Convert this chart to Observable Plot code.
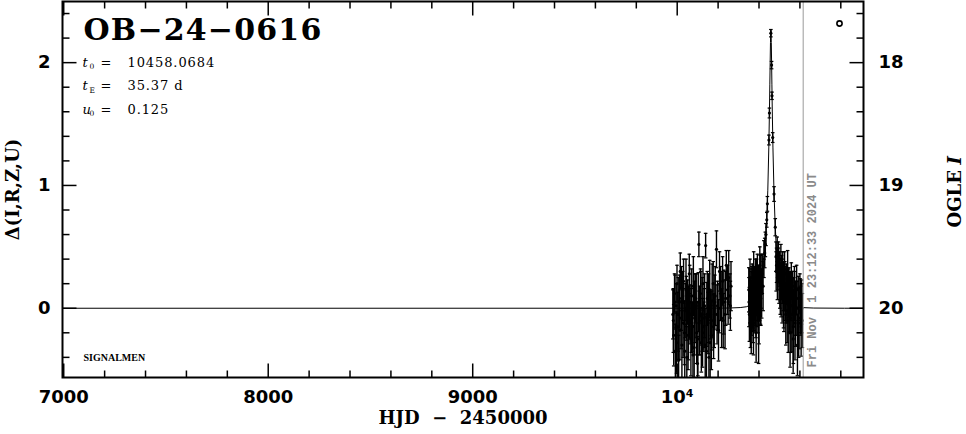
<!DOCTYPE html>
<html><head><meta charset="utf-8">
<script src="https://cdn.jsdelivr.net/npm/d3@7"></script>
<script src="https://cdn.jsdelivr.net/npm/@observablehq/plot@0.6"></script>
<style>
body{margin:0;background:#fff;}
g[aria-description="title"] text{letter-spacing:1.2px;}
g[aria-description="param-value"] text{letter-spacing:0.9px;}
</style>
</head><body><div id="chart"></div>
<script>
// ---- data ----
const eventName = "OB\u221224\u22120616";
const paramSyms = ["t", "t", "u"];
const paramSubs = ["0", "E", "0"];
const paramVals = ["10458.0684", "35.37 d", "0.125"];
const footerLabel = "SIGNALMEN";
const dateLabel = "Fri Nov\u00a0\u00a01 23:12:33 2024 UT";
const nowHJD = [10616];
const xLabel = "HJD\u00a0\u00a0\u2212\u00a0\u00a02450000";
const yLabel = "\u0394(I,R,Z,U)";
const yRightLabel = "OGLE";
const yRightLabelItalic = "I";
const legendSymbol = ["o"];

const xTickValues = [7000, 8000, 9000, 10000];
const xTickLabels = ["7000", "8000", "9000", "10\u2074"];
const xMinorTicks = [7200,7400,7600,7800,8200,8400,8600,8800,9200,9400,9600,9800,10200,10400,10600,10800];
const yTickValues = [0, 1, 2];
const yTickLabels = ["0", "1", "2"];
const yMinorTicks = [-0.4,-0.2,0.2,0.4,0.6,0.8,1.2,1.4,1.6,1.8,2.2,2.4];
const iBase = 20;
const iTickValues = [18, 19, 20];
const iTickLabels = ["18", "19", "20"];
const iMinorTicks = [17.6,17.8,18.2,18.4,18.6,18.8,19.2,19.4,19.6,19.8,20.2,20.4];

// model light curve (t, delta mag)
const modelT = [6994, 10098, 10248, 10308, 10338, 10368, 10398, 10413, 10428, 10433, 10438, 10443, 10448, 10451, 10453, 10454.57, 10456.07, 10457.07, 10458.07, 10459.07, 10460.07, 10461.57, 10463.07, 10465.07, 10468.07, 10473.07, 10478.07, 10483.07, 10488.07, 10503.07, 10518.07, 10548.07, 10578.07, 10608.07, 10668, 10818, 10911];
const modelD = [0, 0.0002, 0.0016, 0.0055, 0.0120, 0.0310, 0.0992, 0.1959, 0.4153, 0.5431, 0.7178, 0.9615, 1.3125, 1.5985, 1.825, 2.0039, 2.164, 2.2373, 2.264, 2.2373, 2.164, 2.0039, 1.825, 1.5985, 1.3125, 0.9615, 0.7178, 0.5431, 0.4153, 0.1959, 0.0992, 0.0310, 0.0120, 0.0055, 0.0016, 0.0002, 0];

// observations (t, delta, error)
const obsT = [
 9979, 9983, 9987, 9991, 9995, 9999, 10003, 10007, 10011, 10015, 10019, 10023, 10027, 10031, 10035, 10039, 10043, 10047, 10051, 10055,
 10059, 10063, 10067, 10071, 10075, 10079, 10083, 10087, 10091, 10095, 10099, 10103, 10106, 10110, 10114, 10118, 10122, 10126, 10130, 10134,
 10139, 10143, 10147, 10151, 10155, 10159, 10163, 10167, 10171, 10176, 10181, 10186, 10192, 10197, 10202, 10207, 10212, 10217, 10222, 10228,
 10234, 10240, 10246, 10252, 10258, 10263,
 9981, 9989, 9997, 10005, 10013, 10021, 10029, 10037, 10045, 10053, 10061, 10069, 10077, 10085, 10093, 10101, 10108, 10116, 10124, 10132,
 10137, 10145, 10153, 10161, 10169, 10178, 10184, 10195, 10205, 10215, 10225, 10237, 10249, 10260,
 10350, 10353, 10356, 10359, 10362, 10365, 10368, 10371, 10374, 10377, 10380, 10383, 10386, 10389, 10392, 10395, 10398, 10401, 10404, 10407,
 10410, 10413, 10416, 10420, 10424,
 10351, 10355, 10358, 10361, 10364, 10367, 10370, 10373, 10376, 10379, 10382, 10385, 10388, 10391, 10394, 10397, 10400, 10403, 10406, 10409,
 10428, 10431, 10434, 10438, 10441, 10448.5, 10451, 10458, 10461.5, 10463.5, 10467, 10473.5, 10479.5,
 10483, 10486, 10489, 10492, 10495, 10498, 10501, 10504, 10507, 10510, 10513, 10516, 10519, 10522, 10525, 10528, 10531, 10534, 10537, 10540,
 10543, 10546, 10549, 10552, 10555, 10558, 10561, 10564, 10567, 10570, 10573, 10576, 10580, 10584, 10588, 10592, 10596, 10600, 10604, 10608, 10612,
 10484, 10490, 10496, 10502, 10508, 10514, 10520, 10526, 10532, 10538, 10544, 10550, 10556, 10562, 10568, 10574, 10578, 10586, 10594, 10602, 10606, 10610];
const obsD = [
 -0.05, -0.22, 0.12, -0.35, 0.02, 0.20, -0.15, -0.42, 0.05, 0.30, -0.08, -0.30, 0.10, 0.22, -0.20, -0.02, 0.15, -0.40, 0.05, -0.12,
 0.28, -0.05, -0.25, 0.10, -0.15, 0.18, -0.32, 0.00, 0.08, -0.20, -0.45, 0.05, 0.52, -0.10, 0.12, -0.28, -0.05, 0.20, -0.15, 0.02,
 0.51, -0.35, 0.08, -0.12, -0.40, 0.15, -0.05, -0.22, 0.06, 0.20, -0.10, 0.10, 0.48, 0.02, -0.18, 0.30, 0.12, -0.08, 0.22, 0.05,
 -0.05, 0.35, 0.15, 0.25, 0.10, 0.18,
 -0.10, 0.05, -0.28, -0.05, -0.18, 0.08, -0.12, -0.35, 0.00, -0.22, 0.05, -0.10, -0.38, -0.08, 0.02, -0.25, -0.12, 0.00, -0.20, -0.08,
 -0.30, -0.05, 0.00, -0.28, -0.10, -0.15, 0.05, -0.05, 0.00, 0.10, -0.10, 0.08, 0.05, 0.02,
 0.15, -0.05, 0.25, 0.05, -0.15, 0.18, 0.08, -0.08, 0.28, 0.12, -0.02, 0.20, -0.20, 0.10, 0.30, 0.02, -0.10, 0.15, 0.35, 0.05,
 0.22, 0.12, 0.28, 0.18, 0.40,
 0.05, 0.10, -0.08, 0.12, 0.00, 0.20, 0.05, -0.12, 0.02, 0.15, 0.08, 0.00, 0.22, 0.05, 0.12, 0.18, -0.05, 0.10, 0.25, 0.08,
 0.45, 0.52, 0.60, 0.72, 0.85, 1.37, 1.59, 2.24, 1.98, 1.73, 1.39, 0.93, 0.66,
 0.42, 0.35, 0.48, 0.30, 0.38, 0.22, 0.32, 0.15, 0.40, 0.25, 0.10, 0.30, 0.18, 0.05, 0.28, 0.12, -0.05, 0.20, 0.08, 0.25,
 -0.10, 0.15, 0.02, -0.20, 0.10, 0.22, -0.05, 0.12, -0.25, 0.05, 0.18, -0.12, 0.00, 0.15, -0.30, 0.08, -0.08, 0.12, -0.02, 0.05, -0.10,
 0.30, 0.25, 0.35, 0.20, 0.15, 0.22, 0.08, 0.18, 0.10, -0.02, 0.12, 0.05, -0.08, 0.02, -0.15, 0.10, -0.05, 0.00, -0.12, 0.02, -0.15, 0.00];
const obsE = [
 0.20, 0.25, 0.16, 0.22, 0.18, 0.15, 0.28, 0.20, 0.22, 0.15, 0.25, 0.28, 0.20, 0.18, 0.26, 0.22, 0.25, 0.25, 0.18, 0.30,
 0.16, 0.24, 0.30, 0.22, 0.20, 0.24, 0.26, 0.28, 0.20, 0.25, 0.22, 0.24, 0.10, 0.28, 0.20, 0.24, 0.30, 0.22, 0.20, 0.26,
 0.10, 0.28, 0.22, 0.25, 0.30, 0.24, 0.20, 0.28, 0.30, 0.18, 0.22, 0.24, 0.15, 0.20, 0.25, 0.16, 0.22, 0.24, 0.20, 0.26,
 0.28, 0.12, 0.20, 0.22, 0.18, 0.20,
 0.26, 0.22, 0.25, 0.30, 0.24, 0.26, 0.28, 0.22, 0.26, 0.28, 0.30, 0.26, 0.24, 0.30, 0.26, 0.30, 0.26, 0.30, 0.28, 0.24,
 0.30, 0.26, 0.28, 0.30, 0.24, 0.26, 0.22, 0.24, 0.20, 0.20, 0.22, 0.22, 0.18, 0.20,
 0.18, 0.22, 0.15, 0.20, 0.22, 0.16, 0.24, 0.20, 0.18, 0.22, 0.18, 0.20, 0.24, 0.16, 0.14, 0.22, 0.35, 0.20, 0.15, 0.18,
 0.22, 0.20, 0.16, 0.20, 0.15,
 0.20, 0.22, 0.24, 0.18, 0.22, 0.16, 0.24, 0.26, 0.20, 0.18, 0.22, 0.24, 0.18, 0.20, 0.22, 0.16, 0.24, 0.20, 0.18, 0.22,
 0.12, 0.10, 0.09, 0.06, 0.06, 0.04, 0.04, 0.03, 0.03, 0.03, 0.04, 0.06, 0.07,
 0.12, 0.14, 0.10, 0.15, 0.16, 0.18, 0.14, 0.20, 0.12, 0.18, 0.22, 0.16, 0.20, 0.24, 0.18, 0.22, 0.25, 0.16, 0.20, 0.22,
 0.26, 0.18, 0.22, 0.28, 0.20, 0.15, 0.30, 0.18, 0.28, 0.20, 0.16, 0.30, 0.22, 0.20, 0.25, 0.18, 0.25, 0.16, 0.20, 0.18, 0.22,
 0.16, 0.18, 0.14, 0.20, 0.22, 0.18, 0.24, 0.20, 0.22, 0.26, 0.20, 0.24, 0.28, 0.22, 0.30, 0.20, 0.26, 0.22, 0.28, 0.22, 0.24, 0.20];

// ---- build ----
const obs = obsT.map((t, i) => ({t, d: obsD[i], e: obsE[i]}));
const model = modelT.map((t, i) => ({t, d: modelD[i]}));

const hSym = (a, b) => ({draw(c) { c.moveTo(a, 0); c.lineTo(b, 0); }});
const vSym = (a, b) => ({draw(c) { c.moveTo(0, a); c.lineTo(0, b); }});
const MAJ = 14, MIN = 7;
const tickStyle = {stroke: "black", fill: "none", strokeWidth: 1.5};
const numFont = {fontFamily: "DejaVu Sans", fontWeight: "bold", fontSize: 18};
const serifBold = {fontFamily: "DejaVu Serif", fontWeight: "bold"};
const lineGap = 23.3;
const firstLine = 61.5;

const paramMarks = paramSyms.flatMap((s, i) => {
  const base = {frameAnchor: "top-left", textAnchor: "start", lineAnchor: "middle", fontFamily: "DejaVu Serif", fill: "black"};
  const dy = firstLine + i * lineGap;
  return [
    Plot.text([s], {...base, text: d => d, dx: 20, dy, fontStyle: "italic", fontSize: 13}),
    Plot.text([paramSubs[i]], {...base, text: d => d, dx: 27, dy: dy + 4, fontSize: 7.5}),
    Plot.text(["="], {...base, text: d => d, dx: 38, dy, fontSize: 13}),
    Plot.text([paramVals[i]], {...base, text: d => d, dx: 65, dy, fontSize: 13, ariaDescription: "param-value"})
  ];
});

const chart = Plot.plot({
  width: 966, height: 434,
  marginLeft: 62, marginRight: 103, marginTop: 1, marginBottom: 57,
  x: {domain: [6994, 10911]},
  y: {domain: [-0.564, 2.498]},
  style: {background: "white", color: "black"},
  marks: [
    Plot.line(model, {x: "t", y: "d", stroke: "black", strokeWidth: 1, clip: true}),
    Plot.ruleX(obs, {x: "t", y1: d => d.d - d.e, y2: d => d.d + d.e, stroke: "black", strokeWidth: 1.4, clip: true}),
    Plot.dot(obs, {x: "t", y: d => d.d - d.e, symbol: hSym(-1.8, 1.8), ...tickStyle, strokeWidth: 1.2, clip: true}),
    Plot.dot(obs, {x: "t", y: d => d.d + d.e, symbol: hSym(-1.8, 1.8), ...tickStyle, strokeWidth: 1.2, clip: true}),
    Plot.dot(obs, {x: "t", y: "d", r: 1.6, fill: "black", stroke: "none", clip: true}),
    Plot.ruleX(nowHJD, {x: d => d, stroke: "#999", strokeWidth: 1}),
    Plot.text([dateLabel], {x: nowHJD[0], frameAnchor: "bottom", text: d => d, rotate: -90, textAnchor: "start", lineAnchor: "middle",
      dx: 9, dy: -10, fill: "#8a8a8a", fontFamily: "Liberation Mono", fontWeight: "bold", fontSize: 12}),
    Plot.frame({stroke: "black", strokeWidth: 2}),
    // ticks
    Plot.dot(xTickValues, {x: d => d, frameAnchor: "bottom", symbol: vSym(-MAJ, 0), ...tickStyle}),
    Plot.dot(xMinorTicks, {x: d => d, frameAnchor: "bottom", symbol: vSym(-MIN, 0), ...tickStyle}),
    Plot.dot(xTickValues, {x: d => d, frameAnchor: "top", symbol: vSym(0, MAJ), ...tickStyle}),
    Plot.dot(xMinorTicks, {x: d => d, frameAnchor: "top", symbol: vSym(0, MIN), ...tickStyle}),
    Plot.dot(yTickValues, {y: d => d, frameAnchor: "left", symbol: hSym(0, MAJ), ...tickStyle}),
    Plot.dot(yMinorTicks, {y: d => d, frameAnchor: "left", symbol: hSym(0, MIN), ...tickStyle}),
    Plot.dot(iTickValues, {y: d => iBase - d, frameAnchor: "right", symbol: hSym(-MAJ, 0), ...tickStyle}),
    Plot.dot(iMinorTicks, {y: d => iBase - d, frameAnchor: "right", symbol: hSym(-MIN, 0), ...tickStyle}),
    // axis tick labels
    Plot.axisX({anchor: "bottom", ticks: xTickValues, tickSize: 0, tickPadding: 13, label: null,
      tickFormat: d => xTickLabels[xTickValues.indexOf(d)], ...numFont}),
    Plot.axisY({anchor: "left", ticks: yTickValues, tickSize: 0, tickPadding: 12, label: null,
      tickFormat: d => yTickLabels[yTickValues.indexOf(d)], ...numFont}),
    Plot.axisY({anchor: "right", ticks: iTickValues.map(v => iBase - v), tickSize: 0, tickPadding: 15, label: null,
      tickFormat: d => iTickLabels[iTickValues.indexOf(iBase - d)], ...numFont}),
    // axis titles
    Plot.text([xLabel], {frameAnchor: "bottom", text: d => d, textAnchor: "middle", lineAnchor: "middle", dy: 41, ...serifBold, fontSize: 18}),
    Plot.text([yLabel], {frameAnchor: "left", text: d => d, rotate: -90, textAnchor: "middle", lineAnchor: "middle", dx: -49, ...serifBold, fontSize: 18}),
    Plot.text([yRightLabel], {frameAnchor: "right", text: d => d, rotate: -90, textAnchor: "start", lineAnchor: "middle", dx: 92, dy: 38, ...serifBold, fontSize: 18}),
    Plot.text([yRightLabelItalic], {frameAnchor: "right", text: d => d, rotate: -90, textAnchor: "start", lineAnchor: "middle", dx: 92, dy: -25, ...serifBold, fontStyle: "italic", fontSize: 18}),
    // in-plot annotations
    Plot.text([eventName], {frameAnchor: "top-left", text: d => d, textAnchor: "start", lineAnchor: "top", dx: 21, dy: 17,
      ariaDescription: "title", ...serifBold, fontSize: 30}),
    ...paramMarks,
    Plot.text([footerLabel], {frameAnchor: "bottom-left", text: d => d, textAnchor: "start", lineAnchor: "middle", dx: 21, dy: -20,
      fontFamily: "Liberation Serif", fontWeight: "bold", fontSize: 10}),
    Plot.dot(legendSymbol, {frameAnchor: "top-right", dx: -24, dy: 22, r: 2.6, stroke: "black", fill: "none", strokeWidth: 1.6})
  ]
});
document.getElementById("chart").appendChild(chart);
</script></body></html>
